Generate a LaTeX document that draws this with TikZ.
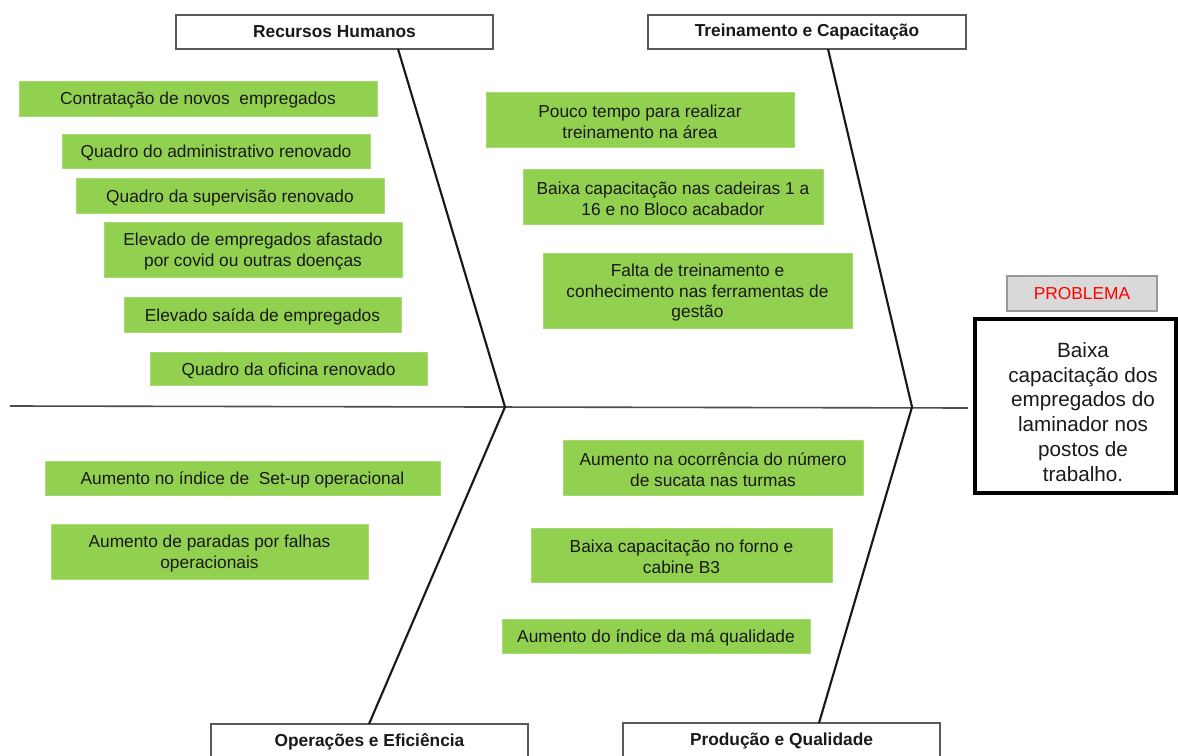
\documentclass[tikz,border=0pt]{standalone}
\usepackage{fontspec}
\setmainfont{Liberation Sans}
\definecolor{gfill}{HTML}{92D050}
\definecolor{pgray}{HTML}{D9D9D9}
\newcommand\gbx[6]{%
  \node[gbox, minimum width={(#4-#2)*0.75pt}, minimum height={(#5-#3)*0.75pt}]
    (#1) at ({(#2+#4)/2},{(#3+#5)/2}) {\rule{0pt}{12.5pt}#6};}
\newcommand\hbx[6]{%
  \node[hbox, minimum width={(#4-#2)*0.75pt}, minimum height={(#5-#3)*0.75pt}]
    (#1) at ({(#2+#4)/2},{(#3+#5)/2}) {#6};}
\begin{document}
\begin{tikzpicture}[x=0.75pt,y=-0.75pt,
  gbox/.style={fill=gfill, draw=gfill!80!white, line width=0.6pt, inner sep=0pt,
    align=center, text=black!90, font=\fontsize{13}{15.6}\selectfont},
  hbox/.style={draw=black!65, line width=1.3pt, fill=white, inner sep=0pt,
    text=black!90, font=\bfseries\fontsize{13}{15.6}\selectfont},
  bone/.style={line width=1.6pt, draw=black!90},
  spine/.style={line width=1.2pt, draw=black!70}]
\useasboundingbox (0,0) rectangle (1178,756);
\clip (0,0) rectangle (1178,756);

% category headers
\hbx{rh}{176}{15}{493}{49}{Recursos Humanos}
\hbx{tc}{648}{15}{966}{49}{Treinamento e Capacitação}
\hbx{oe}{211}{724}{528}{760}{Operações e Eficiência}
\hbx{pq}{623}{723}{940}{760}{Produção e Qualidade}

% skeleton points
\coordinate (s0) at (10,406);
\coordinate (s1) at (968,408);
\coordinate (j1) at (505,407);
\coordinate (j2) at (912,407);
\coordinate (rhp) at (398,49);
\coordinate (tcp) at (828,49);
\coordinate (oep) at (369,724);
\coordinate (pqp) at (819,723);

\draw[spine] (s0) -- (s1);
\draw[bone] (rhp) -- (j1) -- (oep);
\draw[bone] (tcp) -- (j2) -- (pqp);

% causes
\gbx{c1}{19}{81}{377}{116}{Contratação de novos~ empregados}
\gbx{c2}{62}{134}{370}{168}{Quadro do administrativo renovado}
\gbx{c3}{76}{178}{384}{213}{Quadro da supervisão renovado}
\gbx{c4}{104}{222}{402}{277}{Elevado de empregados afastado\\por covid ou outras doenças}
\gbx{c5}{124}{297}{401}{332}{Elevado saída de empregados}
\gbx{c6}{150}{352}{427}{385}{Quadro da oficina renovado}
\gbx{c7}{486}{92}{794}{147}{Pouco tempo para realizar\\treinamento na área}
\gbx{c8}{523}{169}{823}{224}{Baixa capacitação nas cadeiras 1 a\\16 e no Bloco acabador}
\gbx{c9}{543}{253}{852}{328}{Falta de treinamento e\\conhecimento nas ferramentas de\\gestão}
\gbx{c10}{45}{461}{440}{495}{Aumento no índice de~ Set-up operacional}
\gbx{c11}{51}{524}{368}{579}{Aumento de paradas por falhas\\operacionais}
\gbx{c12}{563}{440}{863}{495}{Aumento na ocorrência do número\\de sucata nas turmas}
\gbx{c13}{531}{528}{832}{582}{Baixa capacitação no forno e\\cabine B3}
\gbx{c14}{502}{619}{810}{653}{Aumento do índice da má qualidade}

% problem
\node[fill=pgray, draw=black!40, line width=1.3pt, inner sep=0pt,
  minimum width={150*0.75pt}, minimum height={35*0.75pt},
  text=red, font=\fontsize{13}{15.6}\selectfont] (plabel) at (1082,293.5) {PROBLEMA};
\node[draw=black, line width=2.3pt, fill=white, inner sep=0pt,
  minimum width={201*0.75pt}, minimum height={174*0.75pt}] (prob) at (1075.5,406) {};
\node[align=center, inner sep=0pt, text=black!90,
  font=\fontsize{15.5}{18.6}\selectfont] (probt) at (1083,412)
  {Baixa\\capacitação dos\\empregados do\\laminador nos\\postos de\\trabalho.};
\end{tikzpicture}
\end{document}
